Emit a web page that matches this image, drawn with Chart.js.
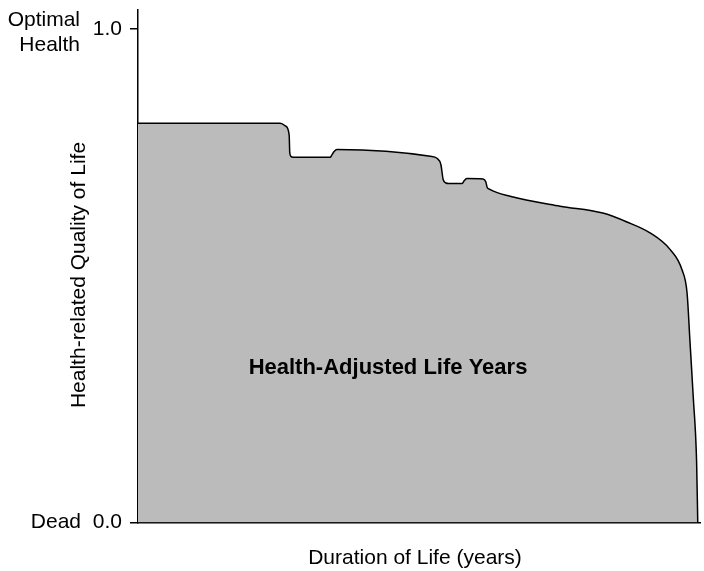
<!DOCTYPE html>
<html>
<head>
<meta charset="utf-8">
<script src="https://cdn.jsdelivr.net/npm/chart.js@4/dist/chart.umd.min.js"></script>
<style>
    body { margin: 0; background: #fff; }
    #wrap { width: 704px; height: 571px; }
</style>
</head>
<body>
<div id="wrap"><canvas id="hale"></canvas></div>
<script>
// years (0-100 scale) and health-related quality of life
const years = [0, 25.3, 26.3, 26.9, 27.0, 27.2, 27.6, 34.2, 34.5, 34.9, 35.4, 52.0, 53.2, 53.9, 54.3, 54.8, 55.3,
    57.7, 58.0, 58.5, 61.4, 61.9, 62.1, 62.6, 66.2, 75.1, 82.7, 87.0, 91.1, 94.7, 96.8, 97.7, 98.2, 98.8, 99.4, 99.6];
const quality = [0.809, 0.809, 0.803, 0.785, 0.750, 0.742, 0.740, 0.740, 0.745, 0.752, 0.756, 0.742, 0.738, 0.725, 0.695, 0.688, 0.687,
    0.687, 0.692, 0.697, 0.696, 0.690, 0.680, 0.675, 0.661, 0.641, 0.627, 0.609, 0.587, 0.553, 0.512, 0.465, 0.370, 0.254, 0.121, 0];
const yTicks = [0, 1];
const yTickLabels = { 0: '0.0', 1: '1.0' };

const FONT = '"Liberation Sans", Arial, Helvetica, sans-serif';

const labelsPlugin = {
    id: 'labels',
    afterDraw(chart) {
        const ctx = chart.ctx;
        const yScale = chart.scales.y;
        ctx.save();
        ctx.fillStyle = '#000';
        ctx.textBaseline = 'middle';
        ctx.font = '21px ' + FONT;

        const top = yScale.getPixelForValue(1);
        const bottom = yScale.getPixelForValue(0);
        ctx.textAlign = 'right';
        ctx.fillText('Optimal', 80, top - 8.5);
        ctx.fillText('Health', 80, top + 16.5);
        ctx.fillText('Dead', 81, bottom);

        ctx.textAlign = 'center';
        ctx.fillText('Duration of Life (years)', 415, 558);

        ctx.save();
        ctx.translate(79, 275);
        ctx.rotate(-Math.PI / 2);
        ctx.fillText('Health-related Quality of Life', 0, 0);
        ctx.restore();

        ctx.font = 'bold 22px ' + FONT;
        ctx.fillText('Health-Adjusted Life Years', 388, 368);
        ctx.restore();
    }
};

new Chart(document.getElementById('hale'), {
    type: 'line',
    data: {
        datasets: [{
            data: years.map((x, i) => ({ x: x, y: quality[i] })),
            borderColor: '#000',
            borderWidth: 1.5,
            backgroundColor: 'rgb(187,187,187)',
            fill: 'origin',
            pointRadius: 0,
            cubicInterpolationMode: 'monotone'
        }]
    },
    options: {
        responsive: true,
        maintainAspectRatio: false,
        animation: false,
        layout: { padding: { top: 10, right: 4, left: 0, bottom: 0 } },
        plugins: { legend: { display: false }, tooltip: { enabled: false } },
        scales: {
            x: {
                type: 'linear',
                min: 0,
                max: 100,
                ticks: { display: false },
                grid: { display: false },
                border: { display: true, color: '#000', width: 1.5 },
                afterFit: (scale) => { scale.height = 48.5; scale.paddingLeft = 0; scale.paddingRight = 0; }
            },
            y: {
                min: 0,
                max: 1.0385,
                afterBuildTicks: (scale) => { scale.ticks = yTicks.map(v => ({ value: v })); },
                ticks: {
                    color: '#000',
                    padding: 8,
                    font: { family: FONT, size: 21 },
                    callback: (v) => yTickLabels[v]
                },
                grid: { drawOnChartArea: false, tickLength: 8, color: '#000', lineWidth: 1.5 },
                border: { display: true, color: '#000', width: 1.5 },
                afterFit: (scale) => { scale.width = 138; scale.paddingTop = 0; scale.paddingBottom = 0; }
            }
        }
    },
    plugins: [labelsPlugin]
});
</script>
</body>
</html>
